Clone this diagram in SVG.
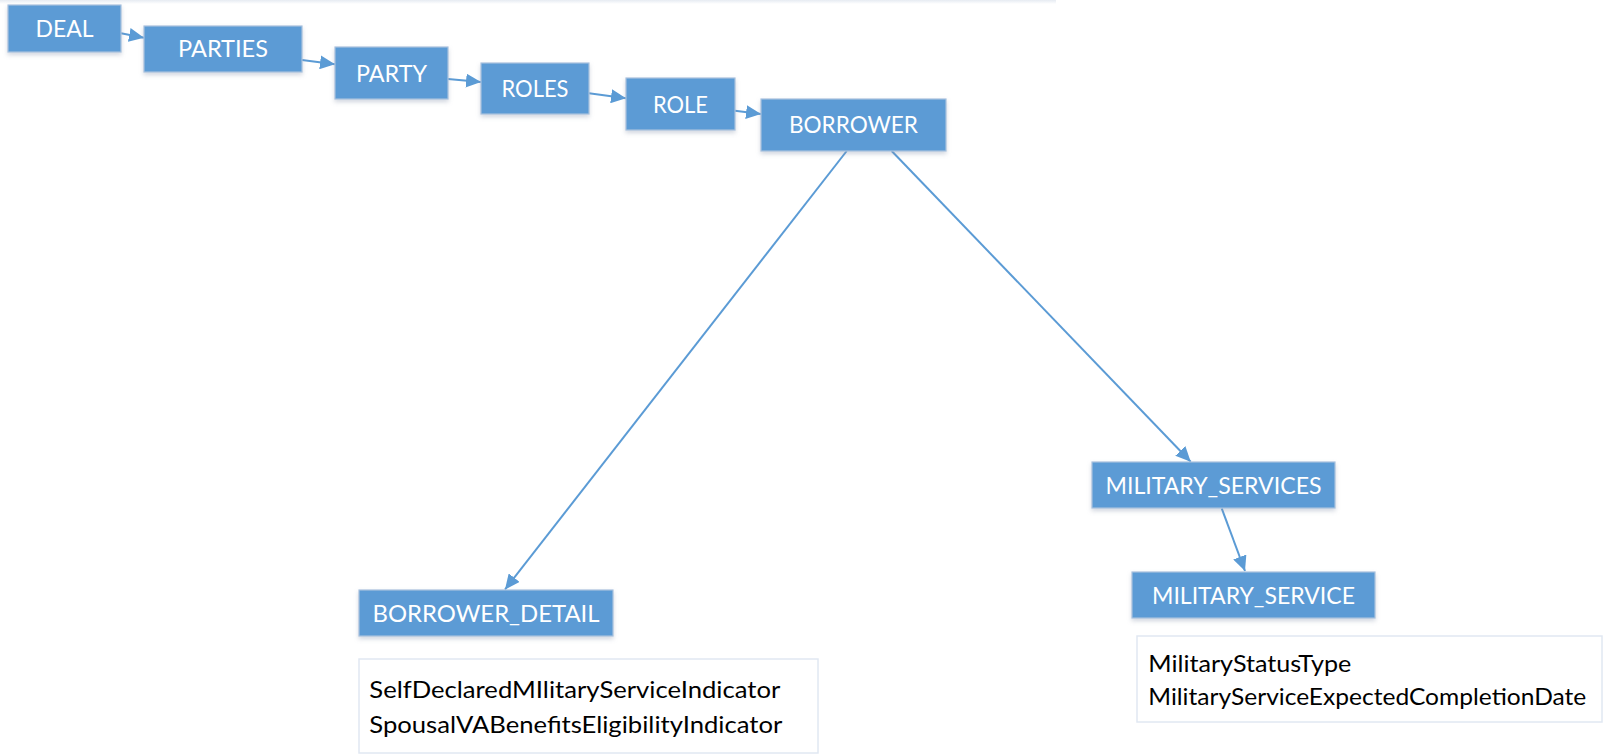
<svg xmlns="http://www.w3.org/2000/svg" width="1624" height="755" viewBox="0 0 1624 755">
<style>
.node rect{fill:#5b9bd5;stroke:#a9c1de;stroke-width:1.2;filter:url(#sh)}
.node text{fill:#ffffff;font-family:Lato,"Liberation Sans",sans-serif;font-size:23.5px;text-anchor:middle}
.attr rect{fill:#ffffff;stroke:#e1e8f2;stroke-width:1.5}
.attr text{fill:#000000;font-family:Lato,"Liberation Sans",sans-serif;font-size:23.5px}
.conn line{stroke:#5b9bd5;stroke-width:2;marker-end:url(#ah)}
</style>
<defs>
<filter id="sh" x="-10%" y="-20%" width="120%" height="160%">
<feDropShadow dx="0" dy="2.5" stdDeviation="2" flood-color="#7f8fa6" flood-opacity="0.35"/>
</filter>
<marker id="ah" markerUnits="userSpaceOnUse" markerWidth="15" markerHeight="14" refX="15" refY="7" orient="auto">
<path d="M0,0 L15,7 L0,14 z" fill="#5b9bd5"/>
</marker>
<linearGradient id="tg" x1="0" y1="0" x2="0" y2="1">
<stop offset="0" stop-color="#e6ebf2"/>
<stop offset="1" stop-color="#ffffff"/>
</linearGradient>
</defs>
<rect x="0" y="0" width="1056" height="4" fill="url(#tg)"/>
<g id="connectors" class="conn">
<line x1="121" y1="33.3" x2="144" y2="37.7"/>
<line x1="302" y1="60" x2="335" y2="64.3"/>
<line x1="448" y1="79" x2="481" y2="82"/>
<line x1="589" y1="93.3" x2="626" y2="98.3"/>
<line x1="735" y1="110.7" x2="761" y2="114"/>
<line x1="846.7" y1="151" x2="505" y2="589.5"/>
<line x1="891.7" y1="151" x2="1190.7" y2="461.7"/>
<line x1="1221.7" y1="508.3" x2="1245" y2="571"/>
</g>
<g id="deal" class="node"><rect x="8" y="5" width="113" height="47"/><text x="64.5" y="36.8" textLength="58" lengthAdjust="spacingAndGlyphs">DEAL</text></g>
<g id="parties" class="node"><rect x="144" y="26" width="158" height="46"/><text x="223" y="57.3" textLength="90" lengthAdjust="spacingAndGlyphs">PARTIES</text></g>
<g id="party" class="node"><rect x="335" y="47" width="113" height="52"/><text x="391.5" y="81.5" textLength="71" lengthAdjust="spacingAndGlyphs">PARTY</text></g>
<g id="roles" class="node"><rect x="481" y="63" width="108" height="51"/><text x="535" y="96.8" textLength="67" lengthAdjust="spacingAndGlyphs">ROLES</text></g>
<g id="role" class="node"><rect x="626" y="78" width="109" height="52"/><text x="680.5" y="112.5" textLength="55" lengthAdjust="spacingAndGlyphs">ROLE</text></g>
<g id="borrower" class="node"><rect x="761" y="99" width="185" height="52"/><text x="853.5" y="133" textLength="129" lengthAdjust="spacingAndGlyphs">BORROWER</text></g>
<g id="borrower_detail" class="node"><rect x="359" y="590" width="254" height="46"/><text x="486" y="621.5" textLength="227" lengthAdjust="spacingAndGlyphs">BORROWER_DETAIL</text></g>
<g id="military_services" class="node"><rect x="1092" y="462" width="243" height="46"/><text x="1213.5" y="493.5" textLength="216" lengthAdjust="spacingAndGlyphs">MILITARY_SERVICES</text></g>
<g id="military_service" class="node"><rect x="1132" y="572" width="243" height="46"/><text x="1253.5" y="603.5" textLength="203" lengthAdjust="spacingAndGlyphs">MILITARY_SERVICE</text></g>
<g id="borrower_detail_attrs" class="attr"><rect x="359" y="659" width="459" height="94"/>
<text x="369.3" y="698.3" textLength="411" lengthAdjust="spacingAndGlyphs">SelfDeclaredMIlitaryServiceIndicator</text>
<text x="369.3" y="733.3" textLength="413" lengthAdjust="spacingAndGlyphs">SpousalVABenefitsEligibilityIndicator</text></g>
<g id="military_service_attrs" class="attr"><rect x="1137" y="636" width="465" height="86"/>
<text x="1148.3" y="672" textLength="203" lengthAdjust="spacingAndGlyphs">MilitaryStatusType</text>
<text x="1148.3" y="705" textLength="438" lengthAdjust="spacingAndGlyphs">MilitaryServiceExpectedCompletionDate</text></g>
</svg>
